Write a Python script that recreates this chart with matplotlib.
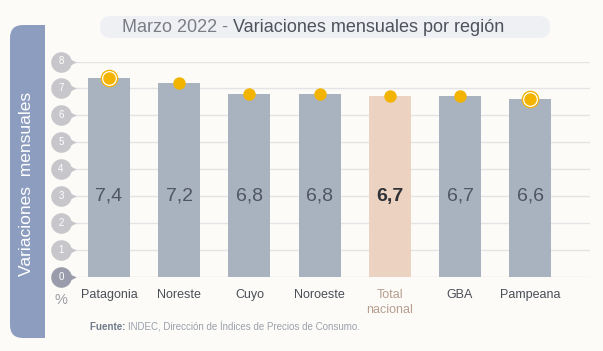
import matplotlib.pyplot as plt
from matplotlib.patches import FancyBboxPatch, Rectangle

plt.rcParams['font.family'] = ['Liberation Sans', 'DejaVu Sans']

# data
regions = ['Patagonia', 'Noreste', 'Cuyo', 'Noroeste', 'Total\nnacional', 'GBA', 'Pampeana']
values = [7.4, 7.2, 6.8, 6.8, 6.7, 6.7, 6.6]
value_labels = ['7,4', '7,2', '6,8', '6,8', '6,7', '6,7', '6,6']
ringed = [True, False, False, False, False, False, True]
yticks = [0, 1, 2, 3, 4, 5, 6, 7, 8]

W, H = 603, 351
BG = '#fcfbf7'
BAR = '#a9b3bf'
TOTAL = '#ecd2c0'
GOLD = '#f2b400'
PANEL = '#8d9dbf'

fig = plt.figure(figsize=(W / 100, H / 100), dpi=100, facecolor=BG)

# background layer in pixel coordinates (y downwards)
bg = fig.add_axes([0, 0, 1, 1])
bg.set_xlim(0, W)
bg.set_ylim(H, 0)
bg.axis('off')
bg.add_patch(FancyBboxPatch((10, 25), 35, 313, boxstyle='round,pad=0,rounding_size=13',
                            facecolor=PANEL, edgecolor='none'))
bg.add_patch(Rectangle((28, 25), 17, 313, facecolor=PANEL, edgecolor='none'))
bg.text(27, 184, 'Variaciones  mensuales', rotation=90, color='white',
        fontsize=12.5, ha='center', va='center')

# title pill
bg.add_patch(FancyBboxPatch((100, 16), 450, 22, boxstyle='round,pad=0,rounding_size=11',
                            facecolor='#eef0f4', edgecolor='none'))
t1 = bg.text(122, 27, 'Marzo 2022 - ', color='#7a7d85', fontsize=13,
             ha='left', va='center')
fig.canvas.draw()
bb = t1.get_window_extent()
fig.text(bb.x1 / W, 1 - 27 / H, 'Variaciones mensuales por región', color='#4e525b',
         fontsize=13, ha='left', va='center')

# main axes
left, right = 72, 590
y0, y8 = 276.7, 61.5
ax = fig.add_axes([left / W, 1 - y0 / H, (right - left) / W, (y0 - y8) / H])
ax.set_facecolor('none')
step = 70.2
ax.set_xlim((left - 109) / step, (right - 109) / step)
ax.set_ylim(0, 8)
for s in ax.spines.values():
    s.set_visible(False)
ax.set_xticks([])
ax.set_yticks([])

for t in yticks:
    ax.axhline(t, color='#e4e4e6', lw=1, zorder=0)

x = list(range(len(regions)))
colors = [TOTAL if r.startswith('Total') else BAR for r in regions]
ax.bar(x, values, width=0.6, color=colors, zorder=2)

for i, v in enumerate(values):
    bold = regions[i].startswith('Total')
    ax.text(i, 3, value_labels[i], ha='center', va='center', fontsize=14,
            color='#2e3138' if bold else '#4f5663',
            fontweight='bold' if bold else 'normal', zorder=3)
    if ringed[i]:
        ax.scatter(i, v, s=160, color=GOLD, zorder=4, clip_on=False, linewidths=0)
        ax.scatter(i, v, s=115, color='white', zorder=5, clip_on=False, linewidths=0)
    ax.scatter(i, v, s=80, color=GOLD, zorder=6, clip_on=False, linewidths=0)
    ax.text(i, -0.45, regions[i], ha='center', va='top', fontsize=9,
            color='#b79e90' if regions[i].startswith('Total') else '#4a4e57',
            linespacing=1.3)

# tick badges
bx = (61 - 109) / step
for t in yticks:
    c = '#9b9cab' if t == 0 else '#c7c7cb'
    ax.scatter(bx + 0.14, t, s=55, marker='>', color=c, clip_on=False,
               linewidths=0, zorder=3)
    ax.scatter(bx, t, s=220, marker='o', color=c, clip_on=False,
               linewidths=0, zorder=4)
    ax.text(bx, t, str(t), ha='center', va='center', fontsize=7,
            color='white', zorder=5)
ax.text(bx, -0.88, '%', ha='center', va='center', fontsize=10.5, color='#9a9ca4')

# source
s1 = fig.text(90 / W, 1 - 327 / H, 'Fuente: ', fontsize=7, fontweight='bold',
              color='#6f7a8c', ha='left', va='center')
fig.canvas.draw()
bb = s1.get_window_extent()
fig.text(bb.x1 / W, 1 - 327 / H, 'INDEC, Dirección de Índices de Precios de Consumo.',
         fontsize=7, color='#9aa1ad', ha='left', va='center')

fig.savefig('out.png', dpi=100, facecolor=BG)
